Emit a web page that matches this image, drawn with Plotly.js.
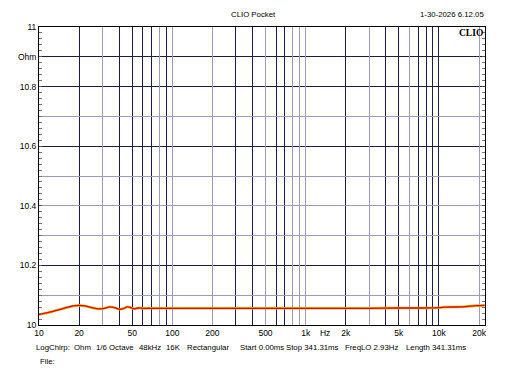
<!DOCTYPE html>
<html>
<head>
<meta charset="utf-8">
<script src="https://cdn.plot.ly/plotly-3.0.1.min.js"></script>
<style>
  html, body { margin: 0; padding: 0; background: #ffffff; }
  #chart { width: 505px; height: 379px; }
</style>
</head>
<body>
<div id="chart"></div>
<script>
// ---- data ----
const freqHz = [10, 12, 14, 16, 18, 20, 22, 25, 28, 31, 34, 37, 40, 43, 46, 49, 52, 55, 60, 70, 100, 200, 500, 1000, 2000, 3000, 5000, 7000, 10000, 11000, 15000, 19000, 22000];
const impedanceOhm = [10.035, 10.043, 10.051, 10.058, 10.064, 10.066, 10.064, 10.058, 10.054, 10.056, 10.061, 10.058, 10.053, 10.055, 10.061, 10.058, 10.054, 10.057, 10.056, 10.056, 10.056, 10.056, 10.056, 10.056, 10.056, 10.056, 10.057, 10.057, 10.058, 10.060, 10.061, 10.065, 10.066];

const xTickVals = [10, 20, 50, 100, 200, 500, 1000, 1400, 2000, 5000, 10000, 20000];
const xTickText = ['10', '20', '50', '100', '200', '500', '1k', 'Hz', '2k', '5k', '10k', '20k'];
const yTickVals = [10, 10.2, 10.4, 10.6, 10.8, 10.9, 11];
const yTickText = ['10', '10.2', '10.4', '10.6', '10.8', 'Ohm', '11'];

const xGridDark = [20, 40, 50, 60, 70, 90, 300, 400, 600, 700, 2000, 4000, 5000, 7000, 8000, 9000, 10000];
const xGridLight = [30, 80, 100, 200, 500, 800, 900, 1000, 3000, 6000, 20000];
const yGridDark = [10.2, 10.6, 10.8, 10.9];
const yGridLight = [10.1, 10.3, 10.4, 10.5, 10.7];

const titleText = 'CLIO Pocket';
const dateText = '1-30-2026 6.12.05';
const footerFields = [
  ['LogChirp:', 34], ['Ohm', 72], ['1/6 Octave', 94], ['48kHz', 137], ['16K', 164],
  ['Rectangular', 185], ['Start 0.00ms', 238], ['Stop 341.31ms', 284],
  ['FreqLO 2.93Hz', 343], ['Length 341.31ms', 404]
];

// ---- layout geometry ----
const W = 505, H = 379;
const M = { l: 39, r: 20, t: 27, b: 54 };
const plotW = W - M.l - M.r, plotH = H - M.t - M.b;
const px2x = px => (px - M.l) / plotW;
const py2y = py => 1 - (py - M.t) / plotH;

const FONT = 'Liberation Sans, Arial, sans-serif';
const FS = 8.5;
const xRange = [1, Math.log10(22150)];
const yRange = [10, 11];

const baseAxis = { showticklabels: false, ticks: '', zeroline: false, fixedrange: true };

const traces = [
  { x: freqHz, y: impedanceOhm, xaxis: 'x', yaxis: 'y', mode: 'lines',
    line: { color: '#f2b020', width: 2.6, shape: 'spline', smoothing: 0.8 }, hoverinfo: 'skip' },
  { x: freqHz, y: impedanceOhm, xaxis: 'x2', yaxis: 'y2', mode: 'lines',
    line: { color: '#dd0a0a', width: 1.3, shape: 'spline', smoothing: 0.8 }, hoverinfo: 'skip' },
  { x: freqHz, y: impedanceOhm, xaxis: 'x3', yaxis: 'y3', mode: 'lines',
    line: { color: 'rgba(0,0,0,0)', width: 0 }, hoverinfo: 'skip' }
];

const annotations = [
  { text: titleText, x: px2x(253), y: py2y(14), xanchor: 'center', yanchor: 'middle' },
  { text: dateText, x: px2x(486), y: py2y(14), xanchor: 'right', yanchor: 'middle' },
  { text: '<b>CLIO</b>', x: px2x(485), y: py2y(33), xanchor: 'right', yanchor: 'middle',
    font: { family: 'Liberation Serif, Times New Roman, serif', size: 9.5, color: '#000' } },
  { text: 'File:', x: px2x(38), y: py2y(361), xanchor: 'left', yanchor: 'middle' }
].concat(footerFields.map(f => ({ text: f[0], x: px2x(f[1]), y: py2y(347), xanchor: 'left', yanchor: 'middle' })))
 .map(a => Object.assign({ xref: 'paper', yref: 'paper', showarrow: false,
   font: { family: FONT, size: 7.8, color: '#000' } }, a));

const layout = {
  width: W, height: H,
  margin: M,
  paper_bgcolor: '#ffffff', plot_bgcolor: '#ffffff',
  showlegend: false,
  font: { family: FONT, size: FS, color: '#000' },
  xaxis: Object.assign({}, baseAxis, { type: 'log', range: xRange, tickmode: 'array', tickvals: xGridDark,
    showgrid: true, gridcolor: '#1c1c48', gridwidth: 1 }),
  yaxis: Object.assign({}, baseAxis, { range: yRange, tickmode: 'array', tickvals: yGridDark,
    showgrid: true, gridcolor: '#1c1c48', gridwidth: 1 }),
  xaxis2: Object.assign({}, baseAxis, { type: 'log', range: xRange, overlaying: 'x', anchor: 'y2', tickmode: 'array', tickvals: xGridLight,
    showgrid: true, gridcolor: '#9c9cba', gridwidth: 1 }),
  yaxis2: Object.assign({}, baseAxis, { range: yRange, overlaying: 'y', anchor: 'x2', tickmode: 'array', tickvals: yGridLight,
    showgrid: true, gridcolor: '#9c9cba', gridwidth: 1 }),
  xaxis3: { type: 'log', range: xRange, overlaying: 'x', anchor: 'y3', tickmode: 'array',
    tickvals: xTickVals, ticktext: xTickText, showgrid: false, zeroline: false, ticks: '',
    showline: true, linecolor: '#000', linewidth: 1, mirror: true, fixedrange: true,
    tickfont: { family: FONT, size: FS, color: '#000' } },
  yaxis3: { range: yRange, overlaying: 'y', anchor: 'x3', tickmode: 'array',
    tickvals: yTickVals, ticktext: yTickText, showgrid: false, zeroline: false,
    ticks: 'inside', ticklen: 3, tickcolor: '#555',
    minor: { dtick: 0.02, ticks: 'inside', ticklen: 3, tickcolor: '#777', showgrid: false },
    showline: true, linecolor: '#000', linewidth: 1, mirror: 'allticks', fixedrange: true,
    tickfont: { family: FONT, size: FS, color: '#000' } },
  annotations: annotations
};

Plotly.newPlot('chart', traces, layout, { staticPlot: true, displayModeBar: false });
</script>
</body>
</html>
